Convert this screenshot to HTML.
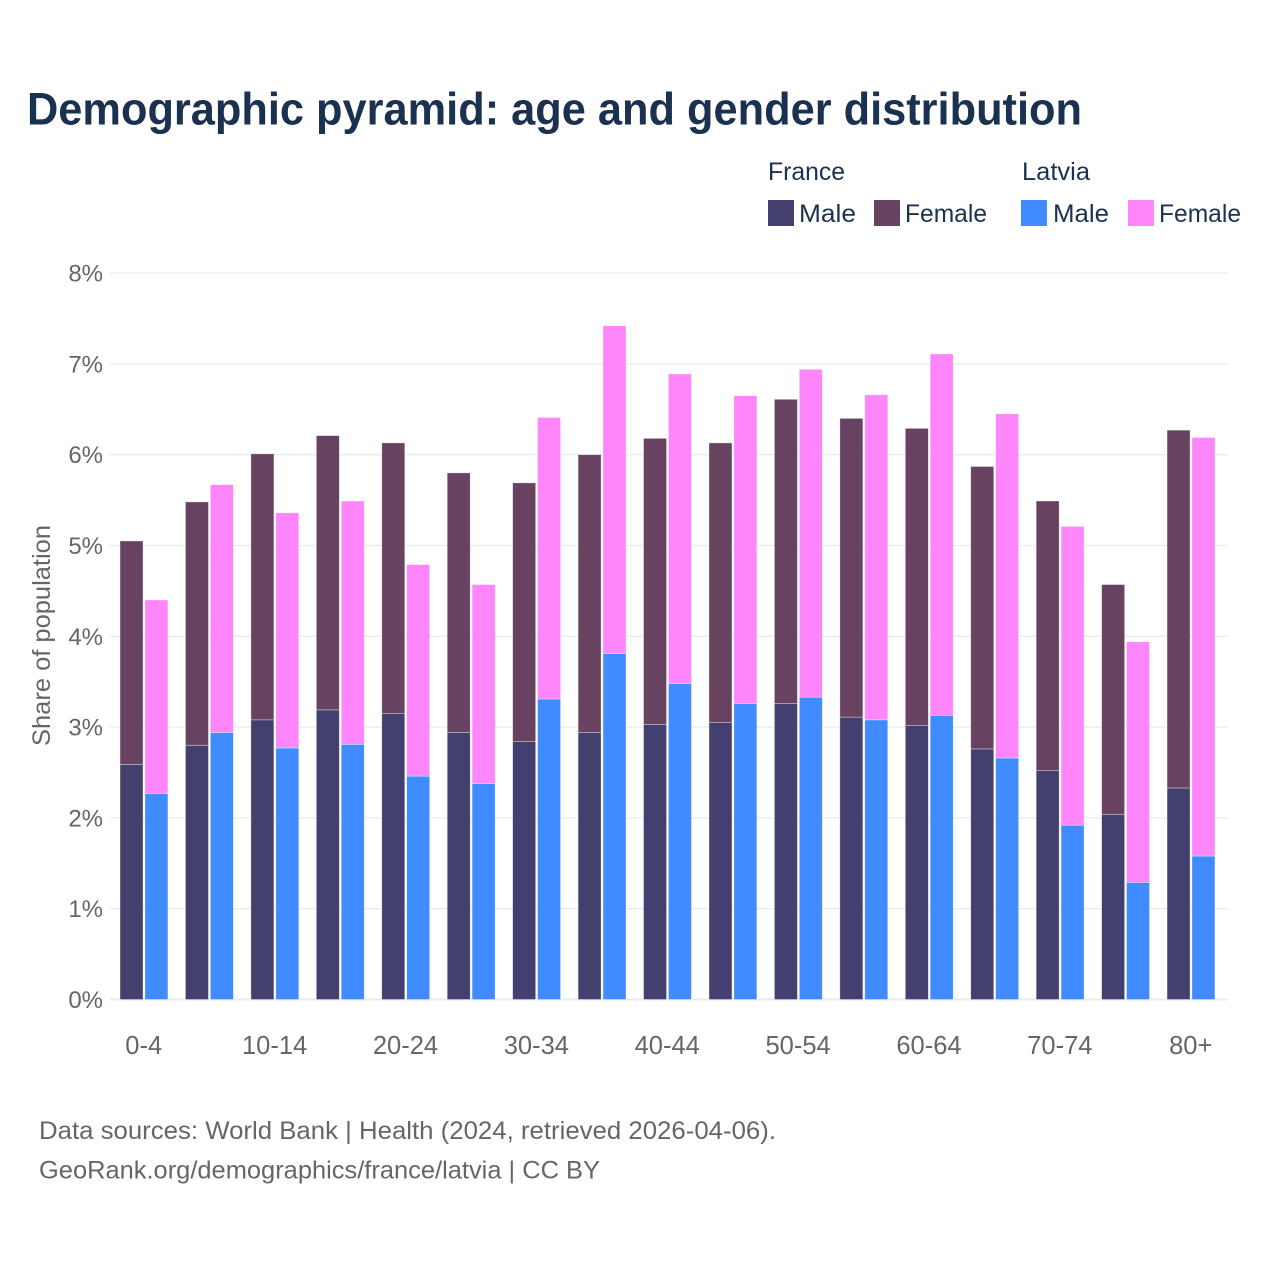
<!DOCTYPE html>
<html lang="en">
<head>
<meta charset="utf-8">
<title>Demographic pyramid: age and gender distribution</title>
<style>
html,body{margin:0;padding:0;background:#fff;}
svg{display:block;font-family:"Liberation Sans",sans-serif;}
</style>
</head>
<body>
<svg id="chart" xmlns="http://www.w3.org/2000/svg" width="1280" height="1280" viewBox="0 0 1280 1280">
  <rect x="0" y="0" width="1280" height="1280" fill="#ffffff"/>
  <text x="27" y="124.5" font-size="45" font-weight="700" fill="#1a3150" textLength="1055" lengthAdjust="spacingAndGlyphs">Demographic pyramid: age and gender distribution</text>

  <g font-size="25" fill="#1a3150">
    <text x="768" y="180" textLength="77" lengthAdjust="spacingAndGlyphs">France</text>
    <text x="1022" y="180" textLength="68" lengthAdjust="spacingAndGlyphs">Latvia</text>
    <rect x="768" y="200" width="26" height="26" fill="#434070"/>
    <text x="799" y="222" textLength="57" lengthAdjust="spacingAndGlyphs">Male</text>
    <rect x="874" y="200" width="26" height="26" fill="#684261"/>
    <text x="905" y="222" textLength="82" lengthAdjust="spacingAndGlyphs">Female</text>
    <rect x="1021" y="200" width="26" height="26" fill="#408bff"/>
    <text x="1053" y="222" textLength="56" lengthAdjust="spacingAndGlyphs">Male</text>
    <rect x="1128" y="200" width="26" height="26" fill="#ff85fb"/>
    <text x="1159" y="222" textLength="82" lengthAdjust="spacingAndGlyphs">Female</text>
  </g>

  <g id="grid"></g>
  <g id="y-ticks"></g>
  <g id="bars"></g>
  <g id="x-ticks"></g>

  <text transform="translate(50,746) rotate(-90)" x="0" y="0" font-size="25" fill="#666666" textLength="221" lengthAdjust="spacingAndGlyphs">Share of population</text>

  <text x="39" y="1139" font-size="25" fill="#666666" textLength="737" lengthAdjust="spacingAndGlyphs">Data sources: World Bank | Health (2024, retrieved 2026-04-06).</text>
  <text x="39" y="1178.5" font-size="25" fill="#666666" textLength="561" lengthAdjust="spacingAndGlyphs">GeoRank.org/demographics/france/latvia | CC BY</text>
</svg>
<script>
const categories = ['0-4','5-9','10-14','15-19','20-24','25-29','30-34','35-39','40-44','45-49','50-54','55-59','60-64','65-69','70-74','75-79','80+'];
const visibleCategoryLabels = ['0-4','10-14','20-24','30-34','40-44','50-54','60-64','70-74','80+'];
const yTickValues = [0,1,2,3,4,5,6,7,8];
const franceMale = [2.59,2.80,3.08,3.19,3.15,2.94,2.84,2.94,3.03,3.05,3.26,3.11,3.02,2.76,2.52,2.04,2.33];
const franceFemale = [2.46,2.68,2.93,3.02,2.98,2.86,2.85,3.06,3.15,3.08,3.35,3.29,3.27,3.11,2.97,2.53,3.94];
const latviaMale = [2.27,2.94,2.77,2.81,2.46,2.38,3.31,3.81,3.48,3.26,3.33,3.08,3.13,2.66,1.92,1.29,1.58];
const latviaFemale = [2.13,2.73,2.59,2.68,2.33,2.19,3.10,3.61,3.41,3.39,3.61,3.58,3.98,3.79,3.29,2.65,4.61];

const NS = 'http://www.w3.org/2000/svg';
const plotLeft = 111, bandStep = 65.44, gridLeft = 110, gridRight = 1228;
const yZero = 999.5, yPerUnit = 90.8;
const barWidth = 23;

function xCenter(i){ return plotLeft + bandStep * (i + 0.5); }
function yScale(v){ return yZero - v * yPerUnit; }

const gridGroup = document.getElementById('grid');
const yTickGroup = document.getElementById('y-ticks');
const barGroup = document.getElementById('bars');
const xTickGroup = document.getElementById('x-ticks');

yTickValues.forEach(function(v){
  const line = document.createElementNS(NS, 'line');
  
  
  line.setAttribute('x1', gridLeft);
  line.setAttribute('x2', gridRight);
  line.setAttribute('y1', yScale(v));
  line.setAttribute('y2', yScale(v));
  line.setAttribute('stroke', '#ebebeb');
  line.setAttribute('stroke-width', v === 0 ? 2 : 1.3);
  gridGroup.appendChild(line);

  const label = document.createElementNS(NS, 'text');
  
  
  label.setAttribute('x', 103);
  label.setAttribute('y', yScale(v) + 8.5);
  label.setAttribute('text-anchor', 'end');
  label.setAttribute('font-size', 24);
  label.setAttribute('fill', '#666666');
  label.textContent = v + '%';
  yTickGroup.appendChild(label);
});

function addBar(name, i, x, base, value, color){
  const top = yScale(base + value);
  const rect = document.createElementNS(NS, 'rect');
  
  
  rect.setAttribute('x', x);
  rect.setAttribute('y', top);
  rect.setAttribute('width', barWidth);
  rect.setAttribute('height', yScale(base) - top);
  rect.setAttribute('fill', color);
  rect.setAttribute('stroke', '#ffffff');
  rect.setAttribute('stroke-opacity', '0.5');
  rect.setAttribute('stroke-width', '0.7');
  barGroup.appendChild(rect);
}

categories.forEach(function(cat, i){
  const c = xCenter(i);
  addBar('bar-france-male', i, c - 23.7, 0, franceMale[i], '#434070');
  addBar('bar-france-female', i, c - 23.7, franceMale[i], franceFemale[i], '#684261');
  addBar('bar-latvia-male', i, c + 1.2, 0, latviaMale[i], '#408bff');
  addBar('bar-latvia-female', i, c + 1.2, latviaMale[i], latviaFemale[i], '#ff85fb');

  if (visibleCategoryLabels.indexOf(cat) !== -1) {
    const label = document.createElementNS(NS, 'text');
    
    
    label.setAttribute('x', c);
    label.setAttribute('y', 1054);
    label.setAttribute('text-anchor', 'middle');
    label.setAttribute('font-size', 25.5);
    label.setAttribute('fill', '#666666');
    label.textContent = cat;
    xTickGroup.appendChild(label);
  }
});
</script>
</body>
</html>
